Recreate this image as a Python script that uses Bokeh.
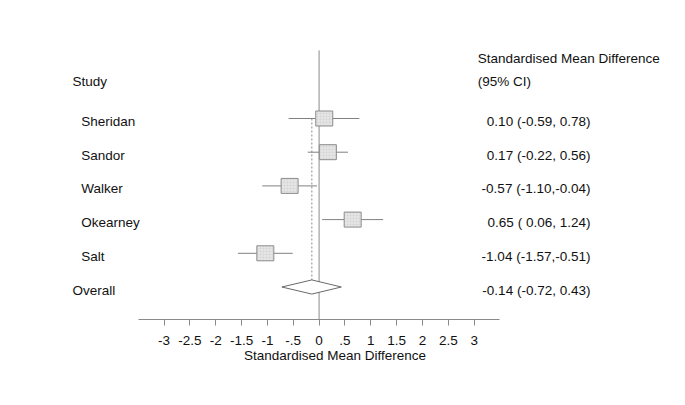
from bokeh.plotting import figure
from bokeh.models import Range1d, FixedTicker, ColumnDataSource
from bokeh.core.properties import value
from bokeh.embed import file_html
from bokeh.resources import INLINE

# ---------------- data ----------------
studies = ["Sheridan", "Sandor", "Walker", "Okearney", "Salt"]
smd = [0.10, 0.17, -0.57, 0.65, -1.04]
ci_lo = [-0.59, -0.22, -1.10, 0.06, -1.57]
ci_hi = [0.78, 0.56, -0.04, 1.24, -0.51]
overall_label = "Overall"
overall_smd = -0.14
overall_lo = -0.72
overall_hi = 0.43
tick_values = [-3, -2.5, -2, -1.5, -1, -0.5, 0, 0.5, 1, 1.5, 2, 2.5, 3]
tick_labels = ["-3", "-2.5", "-2", "-1.5", "-1", "-.5", "0", ".5", "1", "1.5", "2", "2.5", "3"]
x_title = "Standardised Mean Difference"
col_header_1 = "Study"
col_header_2a = "Standardised Mean Difference"
col_header_2b = "(95% CI)"

# ---------------- layout ----------------
FONT = "Liberation Sans"
FS = "13.5px"
W, H = 669, 389
rows = list(range(1, len(studies) + 1))
overall_row = len(studies) + 1

def ci_text(e, l, h):
    return "%.2f (%5.2f,%5.2f)" % (e, l, h)

p = figure(width=W, height=H, output_backend="svg", toolbar_location=None,
           x_range=Range1d(-6.164, 6.78), y_range=Range1d(6.964, -2.501),
           min_border_left=0, min_border_right=0, min_border_top=0,
           min_border_bottom=70)
p.outline_line_color = None
p.grid.visible = False
p.yaxis.visible = False
p.background_fill_color = "white"
p.border_fill_color = "white"

# reference line at zero
p.segment(x0=[0], y0=[-1.02], x1=[0], y1=[6.964], line_color="#8a8a8a", line_width=1)

# dashed line for overall estimate
diamond_h = 0.21
p.segment(x0=[overall_smd], y0=[1], x1=[overall_smd], y1=[overall_row - diamond_h],
          line_color="#8a8a8a", line_width=1, line_dash="2 2")

# CIs
src = ColumnDataSource(dict(study=studies, smd=smd, lo=ci_lo, hi=ci_hi, row=rows,
                            label=[ci_text(e, l, h) for e, l, h in zip(smd, ci_lo, ci_hi)]))
p.segment(x0="lo", y0="row", x1="hi", y1="row", source=src, line_color="#808080", line_width=1)

# boxes
p.rect(x="smd", y="row", width=17, height=15, width_units="screen", height_units="screen",
       source=src, fill_color="#e6e6e6", line_color="#8c8c8c", line_width=1,
       hatch_pattern="cross", hatch_scale=3, hatch_color="#d2d2d2", hatch_weight=0.5)

# overall diamond
p.patch(x=[overall_lo, overall_smd, overall_hi, overall_smd],
        y=[overall_row, overall_row - diamond_h, overall_row, overall_row + diamond_h],
        fill_color="white", line_color="#6a6a6a", line_width=1)

# texts
txt = dict(text_font=value(FONT), text_font_size=FS, text_color="#111111",
           text_baseline="middle")
p.text(x=-4.60, y="row", text="study", source=src, y_offset=3, **txt)
p.text(x=[-4.77], y=[overall_row], text=[overall_label], y_offset=3, **txt)
p.text(x=[-4.77], y=[-0.10], text=[col_header_1], **txt)
p.text(x=[3.07], y=[-0.78], text=[col_header_2a], **txt)
p.text(x=[3.07], y=[-0.10], text=[col_header_2b], **txt)
p.text(x=5.25, y="row", text="label", source=src, y_offset=3,
       text_align="right", **txt)
p.text(x=[5.25], y=[overall_row], text=[ci_text(overall_smd, overall_lo, overall_hi)],
       y_offset=3, text_align="right", **txt)

# x axis
ax = p.xaxis[0]
ax.ticker = FixedTicker(ticks=tick_values)
ax.major_label_overrides = {v: s for v, s in zip(tick_values, tick_labels)}
ax.bounds = (-3.5, 3.5)
ax.axis_line_color = "#8a8a8a"
ax.major_tick_line_color = "#8a8a8a"
ax.major_tick_out = 6
ax.major_tick_in = 0
ax.minor_tick_line_color = None
ax.major_label_text_font = FONT
ax.major_label_text_font_size = FS
ax.major_label_text_color = "#111111"
ax.major_label_standoff = 10
ax.axis_label = x_title
ax.axis_label_text_font = FONT
ax.axis_label_text_font_size = FS
ax.axis_label_text_font_style = "normal"
ax.axis_label_text_color = "#111111"
ax.axis_label_standoff = 0

open("out.html", "w").write(file_html(p, INLINE))
